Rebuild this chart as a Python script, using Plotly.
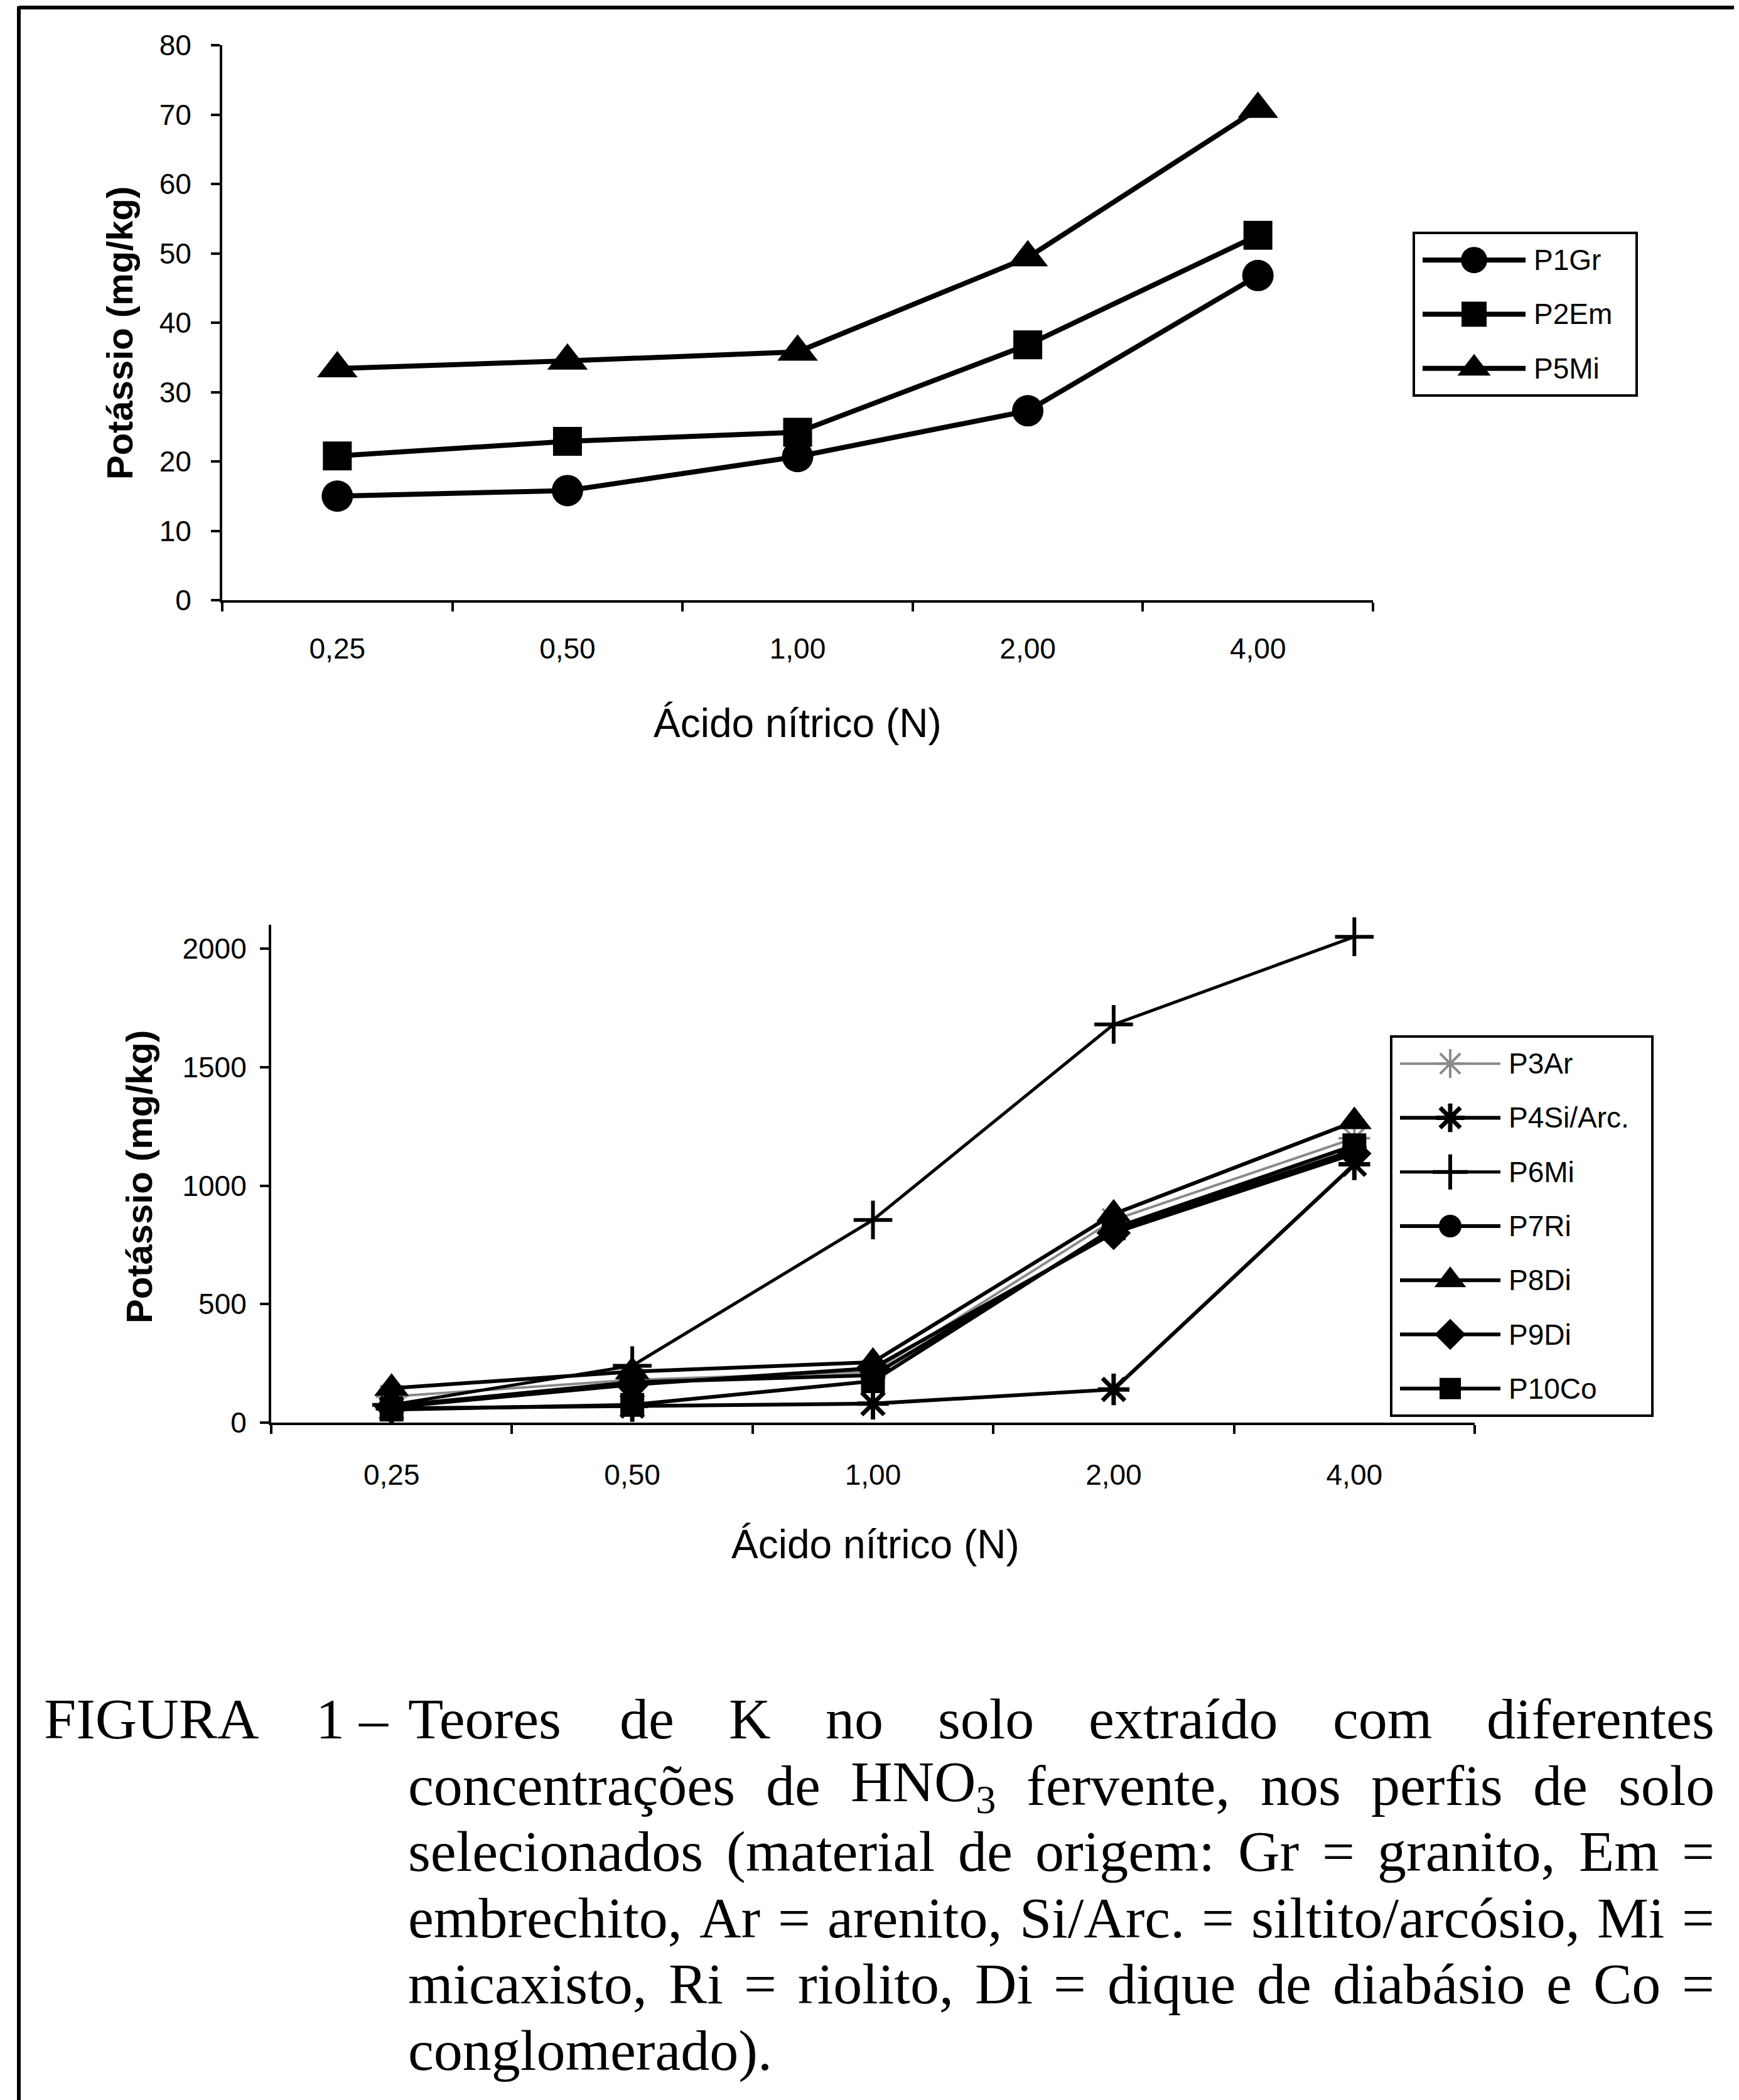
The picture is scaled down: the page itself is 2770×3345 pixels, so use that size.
import unicodedata
import plotly.graph_objects as go

W, H = 2770, 3345

# ---------------- data ----------------
conc_labels = ["0,25", "0,50", "1,00", "2,00", "4,00"]

top_names = ["P1Gr", "P2Em", "P5Mi"]
p1gr = [15.0, 15.8, 20.7, 27.3, 46.8]
p2em = [20.8, 22.9, 24.2, 36.8, 52.6]
p5mi = [33.4, 34.5, 35.8, 49.4, 70.8]
top_y_ticks = [0, 10, 20, 30, 40, 50, 60, 70, 80]

bottom_names = ["P3Ar", "P4Si/Arc.", "P6Mi", "P7Ri", "P8Di", "P9Di", "P10Co"]
p3ar = [110, 180, 215, 855, 1200]
p4si = [60, 70, 80, 140, 1090]
p6mi = [75, 240, 855, 1680, 2050]
p7ri = [70, 170, 200, 810, 1150]
p8di = [145, 215, 255, 880, 1270]
p9di = [65, 160, 230, 800, 1135]
p10co = [55, 75, 175, 820, 1170]
bottom_y_ticks = [0, 500, 1000, 1500, 2000]

x_title = "Ácido nítrico (N)"
y_title = "Potássio (mg/kg)"

caption_lines = [
    "Teores de K no solo extraído com diferentes",
    "concentrações de HNO<sub>3</sub> fervente, nos perfis de solo",
    "selecionados (material de origem: Gr = granito, Em =",
    "embrechito, Ar = arenito, Si/Arc. = siltito/arcósio, Mi =",
    "micaxisto, Ri = riolito, Di = dique de diabásio e Co =",
    "conglomerado).",
]

# ---------------- helpers ----------------
SANS = "Liberation Sans, Arial, sans-serif"
SERIF = "Liberation Serif, Times New Roman, serif"


def fx(px):
    return px / W


def fy(py):
    return 1 - py / H


fig = go.Figure()

# ---------------- top chart ----------------
top_series = [
    (top_names[0], p1gr, "circle", 50, 0),
    (top_names[1], p2em, "square", 46, 0),
    (top_names[2], p5mi, "triangle-up", 56, 0),
]
for name, vals, sym, sz, mlw in top_series:
    fig.add_trace(go.Scatter(
        x=conc_labels, y=vals, name=name, mode="lines+markers",
        line=dict(color="black", width=8),
        marker=dict(symbol=sym, size=sz, color="black", line=dict(width=mlw)),
        xaxis="x", yaxis="y", showlegend=False, cliponaxis=False,
    ))

# ---------------- bottom chart ----------------
bottom_series = [
    (bottom_names[0], p3ar, "asterisk-open", 42, "#8a8a8a", 4, 4),
    (bottom_names[1], p4si, "asterisk-open", 42, "black", 6, 7),
    (bottom_names[2], p6mi, "cross-thin-open", 44, "black", 5, 6),
    (bottom_names[3], p7ri, "circle", 40, "black", 6, 0),
    (bottom_names[4], p8di, "triangle-up", 48, "black", 6, 0),
    (bottom_names[5], p9di, "diamond", 42, "black", 6, 0),
    (bottom_names[6], p10co, "square", 38, "black", 6, 0),
]
for name, vals, sym, sz, col, lw, mlw in bottom_series:
    fig.add_trace(go.Scatter(
        x=conc_labels, y=vals, name=name, mode="lines+markers",
        line=dict(color=col, width=lw),
        marker=dict(symbol=sym, size=sz, color=col,
                    line=dict(width=mlw, color=col)),
        xaxis="x2", yaxis="y2", showlegend=False, cliponaxis=False,
    ))

# ---------------- manual legends ----------------
tl_x0, tl_x1, tl_y0, tl_y1 = 2244, 2599, 363, 622
bl_x0, bl_x1, bl_y0, bl_y1 = 2208, 2624, 1643, 2247


def add_legend(ax_x, ax_y, x0, x1, y0, y1, entries, line_a, line_b, text_x, fsize):
    bw, bh = x1 - x0, y1 - y0
    n = len(entries)
    step = bh / n
    for i, (name, sym, sz, col, lw, mlw) in enumerate(entries):
        yc = step * (i + 0.5)
        fig.add_trace(go.Scatter(
            x=[line_a, line_b], y=[yc, yc], mode="lines",
            line=dict(color=col, width=lw), xaxis=ax_x, yaxis=ax_y,
            showlegend=False, hoverinfo="skip"))
        fig.add_trace(go.Scatter(
            x=[(line_a + line_b) / 2], y=[yc], mode="markers",
            marker=dict(symbol=sym, size=sz, color=col,
                        line=dict(width=mlw, color=col)),
            xaxis=ax_x, yaxis=ax_y, showlegend=False, hoverinfo="skip"))
        fig.add_annotation(
            x=text_x, y=yc, xref=ax_x, yref=ax_y, text=name,
            showarrow=False, xanchor="left", yanchor="middle",
            font=dict(family=SANS, size=fsize, color="black"))
    fig.add_shape(type="rect", xref="paper", yref="paper",
                  x0=fx(x0), x1=fx(x1), y0=fy(y1), y1=fy(y0),
                  line=dict(color="black", width=4), fillcolor="rgba(0,0,0,0)")
    return bw, bh


top_leg_entries = [
    (top_names[0], "circle", 42, "black", 8, 0),
    (top_names[1], "square", 40, "black", 8, 0),
    (top_names[2], "triangle-up", 46, "black", 8, 0),
]
tbw, tbh = add_legend("x3", "y3", tl_x0, tl_x1, tl_y0, tl_y1,
                      top_leg_entries, 14, 178, 189, 46)

bot_leg_entries = [(n, s, sz - 4, c, lw, mlw) for (n, v, s, sz, c, lw, mlw) in bottom_series]
bbw, bbh = add_legend("x4", "y4", bl_x0, bl_x1, bl_y0, bl_y1,
                      bot_leg_entries, 14, 174, 185, 46)

# ---------------- axes ----------------
axis_common = dict(showline=True, linecolor="black", linewidth=4, ticks="outside",
                   tickcolor="black", tickwidth=4, ticklen=14, showgrid=False,
                   zeroline=False, automargin=False,
                   tickfont=dict(family=SANS, size=46, color="black"),
                   fixedrange=True)

fig.update_layout(
    template="none",
    xaxis=dict(**axis_common, type="category", categoryarray=conc_labels,
               categoryorder="array", range=[-0.5, 4.5], tickson="boundaries",
               ticklabelstandoff=34, domain=[fx(346), fx(2179)], anchor="y"),
    yaxis=dict(**axis_common, range=[0, 80], tickvals=top_y_ticks,
               ticklabelstandoff=22, domain=[fy(948), fy(64)], anchor="x"),
    xaxis2=dict(**axis_common, type="category", categoryarray=conc_labels,
                categoryorder="array", range=[-0.5, 4.5], tickson="boundaries",
                ticklabelstandoff=40, domain=[fx(424), fx(2341)], anchor="y2"),
    yaxis2=dict(**axis_common, range=[0, 2100], tickvals=bottom_y_ticks,
                ticklabelstandoff=12, domain=[fy(2258), fy(2258 - 2100 * 0.3775)],
                anchor="x2"),
    xaxis3=dict(visible=False, range=[0, tbw], domain=[fx(tl_x0), fx(tl_x1)],
                anchor="y3", fixedrange=True, automargin=False),
    yaxis3=dict(visible=False, range=[tbh, 0], domain=[fy(tl_y1), fy(tl_y0)],
                anchor="x3", fixedrange=True, automargin=False),
    xaxis4=dict(visible=False, range=[0, bbw], domain=[fx(bl_x0), fx(bl_x1)],
                anchor="y4", fixedrange=True, automargin=False),
    yaxis4=dict(visible=False, range=[bbh, 0], domain=[fy(bl_y1), fy(bl_y0)],
                anchor="x4", fixedrange=True, automargin=False),
)

# axis titles
def axis_title(xp, yp, text, size, angle=0):
    fig.add_annotation(x=fx(xp), y=fy(yp), xref="paper", yref="paper", text=text,
                       textangle=angle, showarrow=False, xanchor="center",
                       yanchor="middle",
                       font=dict(family=SANS, size=size, color="black"))


axis_title(1262, 1144, x_title, 64)
axis_title(182, 523, "<b>" + y_title + "</b>", 58, -90)
axis_title(1386, 2452, x_title, 64)
axis_title(213, 1867, "<b>" + y_title + "</b>", 58, -90)

# ---------------- caption (justified) ----------------
TW = {
    'a': .444, 'b': .5, 'c': .444, 'd': .5, 'e': .444, 'f': .333, 'g': .5, 'h': .5,
    'i': .278, 'j': .278, 'k': .5, 'l': .278, 'm': .778, 'n': .5, 'o': .5, 'p': .5,
    'q': .5, 'r': .333, 's': .389, 't': .278, 'u': .5, 'v': .5, 'w': .722, 'x': .5,
    'y': .5, 'z': .444,
    'A': .722, 'B': .667, 'C': .667, 'D': .722, 'E': .611, 'F': .556, 'G': .722,
    'H': .722, 'I': .333, 'J': .389, 'K': .722, 'L': .611, 'M': .889, 'N': .722,
    'O': .722, 'P': .556, 'Q': .722, 'R': .667, 'S': .556, 'T': .611, 'U': .722,
    'V': .722, 'W': .944, 'X': .722, 'Y': .722, 'Z': .611,
    ',': .25, '.': .25, '(': .333, ')': .333, '=': .564, '/': .278, ':': .278,
    '–': .5, ' ': .25,
}


def text_width(word, size):
    if "<sub>" in word:
        main, rest = word.split("<sub>")
        sub, after = rest.split("</sub>")
        return text_width(main + after, size) + text_width(sub, size) * 0.7
    w = 0.0
    for ch in word:
        base = unicodedata.normalize("NFD", ch)[0]
        w += TW.get(base, 0.5)
    return w * size


CAP_SIZE = 92
cap_left, cap_right = 640, 2721
cap_y = [2730, 2836, 2941, 3047, 3152, 3258]


def cap_text(x_px, y_px, txt):
    fig.add_annotation(x=fx(x_px), y=fy(y_px), xref="paper", yref="paper", text=txt,
                       showarrow=False, xanchor="left", yanchor="middle",
                       font=dict(family=SERIF, size=CAP_SIZE, color="black"))


cap_text(60, cap_y[0], "FIGURA")
cap_text(493, cap_y[0], "1 –")
for i, line in enumerate(caption_lines):
    words = line.split(" ")
    if i == len(caption_lines) - 1:
        cap_text(cap_left, cap_y[i], line)
        continue
    widths = [text_width(w, CAP_SIZE) for w in words]
    gap = (cap_right - cap_left - sum(widths)) / (len(words) - 1)
    xpos = cap_left
    for w, wd in zip(words, widths):
        cap_text(xpos, cap_y[i], w)
        xpos += wd + gap

# ---------------- page frame ----------------
frame = dict(color="black", width=6)
fig.add_shape(type="line", xref="paper", yref="paper", x0=fx(22), x1=fx(22),
              y0=0, y1=fy(2), line=frame)
fig.add_shape(type="line", xref="paper", yref="paper", x0=fx(22), x1=fx(2766),
              y0=fy(4), y1=fy(4), line=frame)
fig.add_shape(type="line", xref="paper", yref="paper", x0=fx(2764), x1=fx(2764),
              y0=fy(1400), y1=fy(2), line=dict(color="black", width=5))

fig.update_layout(
    width=W, height=H,
    margin=dict(l=0, r=0, t=0, b=0, pad=0, autoexpand=False),
    paper_bgcolor="white", plot_bgcolor="white", showlegend=False,
    font=dict(family=SANS, color="black"),
)

fig.write_html("out.html")
